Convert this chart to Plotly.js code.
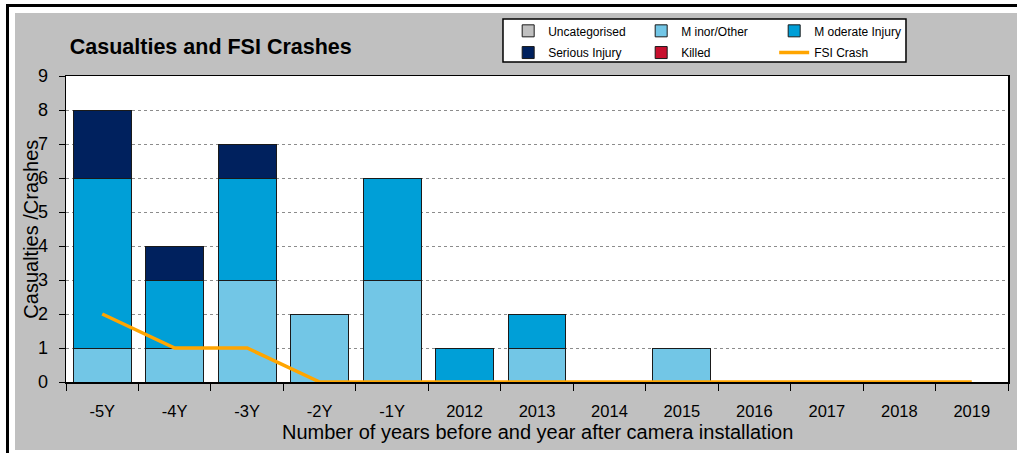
<!DOCTYPE html>
<html><head><meta charset="utf-8">
<script src="https://cdn.plot.ly/plotly-3.0.1.min.js"></script>
<style>
html,body{margin:0;padding:0;background:#fff;width:1017px;height:453px;overflow:hidden;}
#frame{position:absolute;left:0;top:0;width:1017px;height:453px;background:#fff;}
#bl{position:absolute;left:6px;top:4px;width:3px;height:449px;background:#000;}
#bt{position:absolute;left:6px;top:4px;width:1011px;height:3px;background:#000;}
#chart{position:absolute;left:15px;top:13px;width:1002px;height:437px;}
</style></head>
<body><div id="frame"><div id="bl"></div><div id="bt"></div><div id="chart"></div></div>
<script>
const categories = ['-5Y','-4Y','-3Y','-2Y','-1Y','2012','2013','2014','2015','2016','2017','2018','2019'];
const uncategorised = [0,0,0,0,0,0,0,0,0,0,0,0,0];
const minorOther    = [1,1,3,2,3,0,1,0,1,0,0,0,0];
const moderate      = [5,2,3,0,3,1,1,0,0,0,0,0,0];
const serious       = [2,1,1,0,0,0,0,0,0,0,0,0,0];
const killed        = [0,0,0,0,0,0,0,0,0,0,0,0,0];
const fsiCrash      = [2,1,1,0,0,0,0,0,0,0,0,0,0];

const FONT = 'Liberation Sans, Arial, sans-serif';
function bar(name, y, color, legend) {
  return {type:'bar', name:name, x:categories, y:y, legend:legend,
    marker:{color:color, line:{color:'#1a1a1a', width:1}}, hoverinfo:'y+name'};
}
const traces = [
  bar('Uncategorised', uncategorised, '#C0C0C0', 'legend'),
  bar('M inor/Other', minorOther, '#72C6E6', 'legend'),
  bar('M oderate Injury', moderate, '#009FD7', 'legend'),
  bar('Serious Injury', serious, '#00215E', 'legend2'),
  bar('Killed', killed, '#C8102E', 'legend2'),
  {type:'scatter', mode:'lines', name:'FSI Crash', x:categories, y:fsiCrash, legend:'legend2',
   line:{color:'#FFA500', width:3.5}}
];
const legBase = {orientation:'h', bgcolor:'rgba(0,0,0,0)', borderwidth:0, font:{family:FONT, size:12, color:'#000'},
  traceorder:'normal', entrywidth:88, entrywidthmode:'pixels', xanchor:'left', yanchor:'top', itemwidth:30, tracegroupgap:0};
const layout = {
  width:1002, height:437,
  margin:{l:51, r:9, t:63, b:68, autoexpand:false},
  paper_bgcolor:'#C0C0C0', plot_bgcolor:'#FFFFFF',
  barmode:'stack', bargap:0.2,
  showlegend:true,
  font:{family:FONT, color:'#000'},
  title:{text:'<b>Casualties and FSI Crashes</b>', font:{family:FONT, size:21.5, color:'#000'},
    x:0.004, xref:'paper', xanchor:'left', y:0.924, yref:'container', yanchor:'middle'},
  legend: Object.assign({}, legBase, {x:0.4694, y:1.195}),
  legend2: Object.assign({}, legBase, {x:0.4694, y:1.124}),
  xaxis:{type:'category', tickson:'boundaries', ticks:'outside', ticklen:7, tickcolor:'#000',
    showline:true, linecolor:'#000', linewidth:1.5, mirror:true, showgrid:false,
    tickfont:{family:FONT, size:16.5, color:'#000'}, ticklabelstandoff:14, fixedrange:true},
  yaxis:{range:[0,9], dtick:1, ticks:'outside', ticklen:6, tickcolor:'#000',
    showline:true, linecolor:'#000', linewidth:1.5, mirror:true,
    showgrid:true, gridcolor:'#8c8c8c', griddash:'dot', gridwidth:1, zeroline:false,
    tickfont:{family:FONT, size:18, color:'#000'}, ticklabelstandoff:7, fixedrange:true},
  shapes:[{type:'rect', xref:'paper', yref:'paper', x0:0.4639, x1:0.8917, y0:1.0455, y1:1.1865,
    fillcolor:'#FFFFFF', line:{color:'#000', width:1.5}, layer:'below'}],
  annotations:[
    {text:'Casualties /Crashes', xref:'paper', yref:'paper', x:-0.0375, y:0.5, xanchor:'center', yanchor:'middle',
     textangle:-90, showarrow:false, font:{family:FONT, size:20, color:'#000'}},
    {text:'Number of years before and year after camera installation', xref:'paper', yref:'paper',
     x:0.5, y:-0.163, xanchor:'center', yanchor:'middle', showarrow:false, font:{family:FONT, size:20, color:'#000'}}
  ]
};
Plotly.newPlot('chart', traces, layout, {displayModeBar:false, staticPlot:true});
</script></body></html>
